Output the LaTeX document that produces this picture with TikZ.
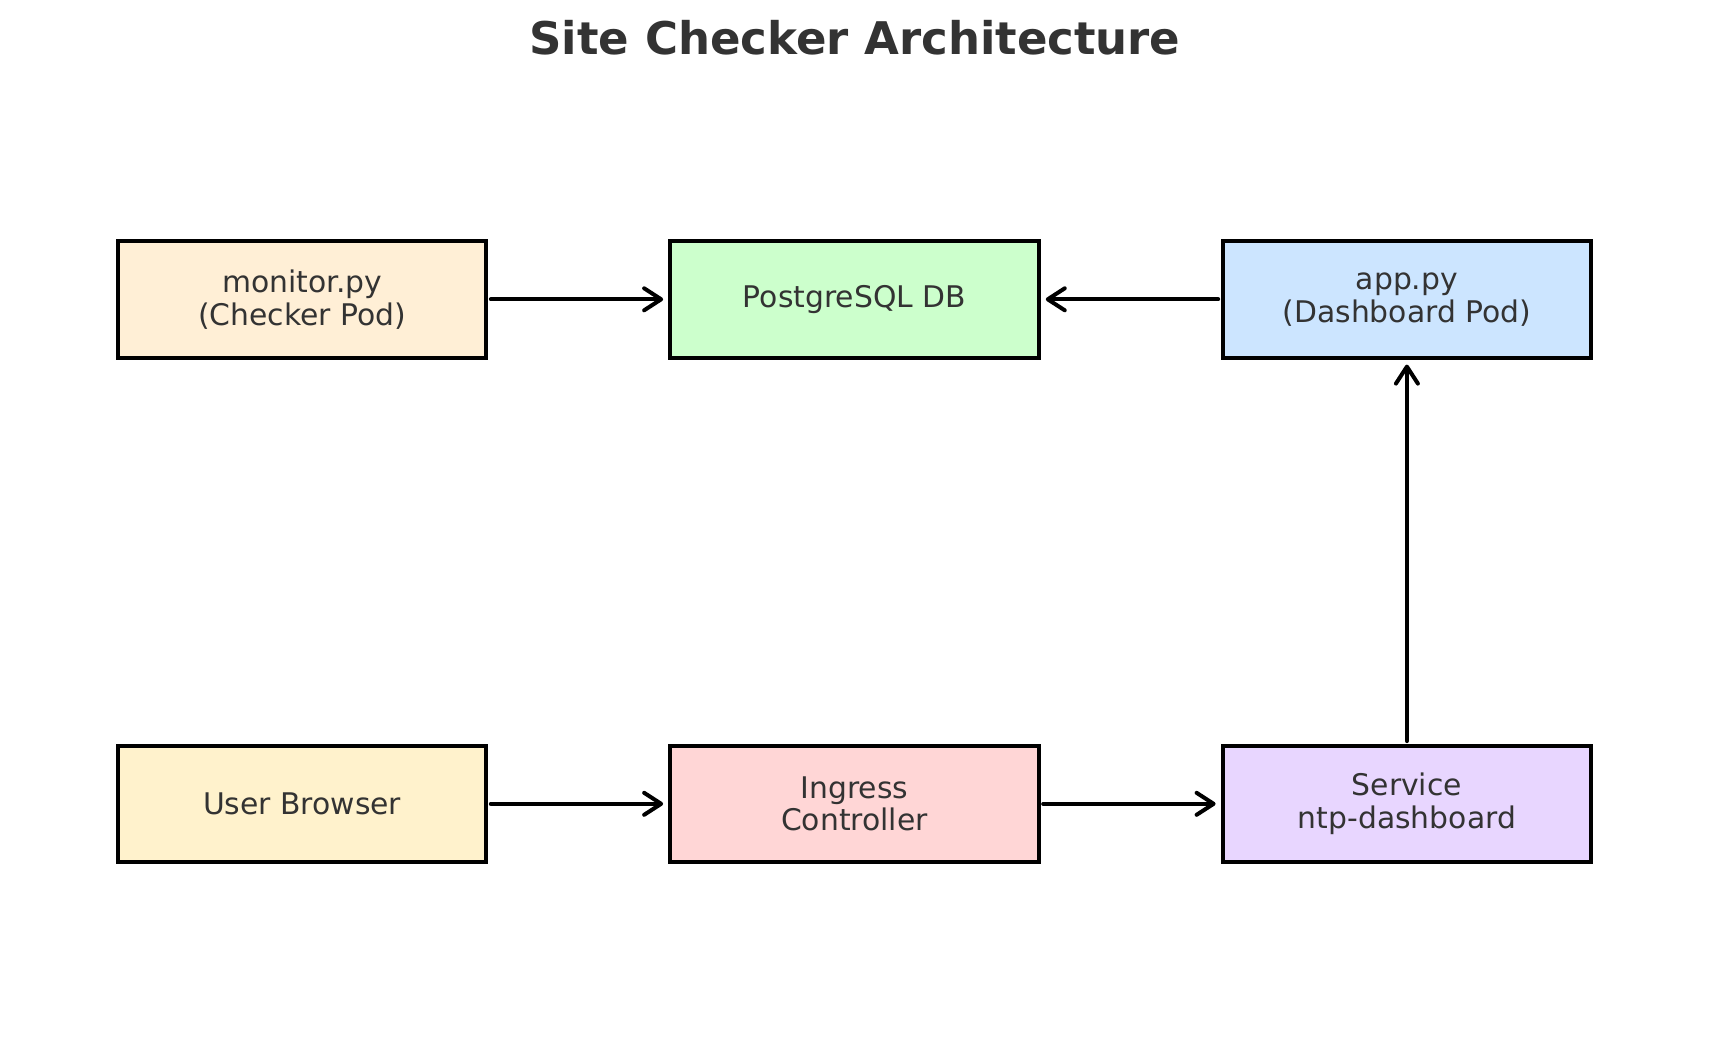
\documentclass[tikz,border=0pt]{standalone}
\usepackage{fontspec}
\setmainfont{DejaVu Sans}
\usetikzlibrary{arrows.meta}
\definecolor{txt}{HTML}{333333}
\definecolor{cmon}{HTML}{FFEFD6}
\definecolor{cdb}{HTML}{CCFFCC}
\definecolor{capp}{HTML}{CCE5FF}
\definecolor{cuser}{HTML}{FFF2CC}
\definecolor{cing}{HTML}{FFD6D6}
\definecolor{csvc}{HTML}{E8D6FF}
\begin{document}
\begin{tikzpicture}[x=1pt,y=-1pt,
  box/.style={draw=black,line width=4pt,minimum width=368.6pt,minimum height=116.6pt,inner sep=0pt,align=center,text=txt,font=\fontsize{29.8}{32.7}\selectfont},
  arr/.style={draw=black,line width=4pt,line cap=round,-{Straight Barb[length=17pt,width=22pt,round]},shorten <=2.4pt,shorten >=5pt}]
\path[use as bounding box,fill=white] (0,0) rectangle (1710,1055);
\node[anchor=base,font=\fontsize{45}{54}\selectfont\bfseries,text=txt] (title) at (855,54) {Site Checker Architecture};
\node[box,fill=cmon] (mon) at (302.1,299.3) {monitor.py\\(Checker Pod)};
\node[box,fill=cdb] (db) at (854.45,299.3) {PostgreSQL DB};
\node[box,fill=capp] (app) at (1406.9,299.3) {app.py\\(Dashboard Pod)};
\node[box,fill=cuser] (user) at (302.1,803.8) {User Browser};
\node[box,fill=cing] (ing) at (854.45,803.8) {Ingress\\Controller};
\node[box,fill=csvc] (svc) at (1406.9,803.8) {Service\\ntp-dashboard};
\draw[arr] (mon) -- (db);
\draw[arr] (app) -- (db);
\draw[arr] (user) -- (ing);
\draw[arr] (ing) -- (svc);
\draw[arr] (svc) -- (app);
\end{tikzpicture}
\end{document}
